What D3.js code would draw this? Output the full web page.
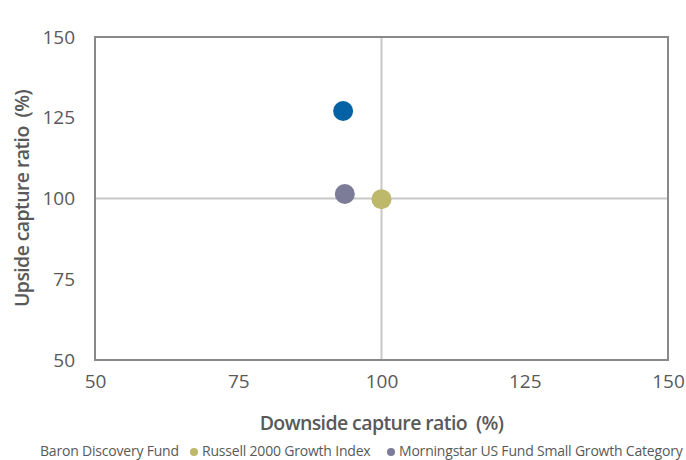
<!DOCTYPE html>
<html><head><meta charset="utf-8">
<script src="https://cdn.jsdelivr.net/npm/d3@7"></script>
<style>body{margin:0;background:#fff}svg{display:block}</style>
</head><body><svg id="c" width="686" height="460"></svg>
<script>
const series = ["Baron Discovery Fund","Russell 2000 Growth Index","Morningstar US Fund Small Growth Category"];
const downside = [93.3, 100.0, 93.6];
const upside = [127.1, 99.8, 101.4];
const colors = ["#0563a5","#bdb86a","#7c7b98"];
const xTicks = [50,75,100,125,150];
const yTicks = [50,75,100,125,150];

const svg = d3.select("#c");
const m = {l:95, r:18, t:37, b:100};
const W = 686, H = 460;
const x = d3.scaleLinear().domain([50,150]).range([m.l, W-m.r]);
const y = d3.scaleLinear().domain([50,150]).range([H-m.b, m.t]);
const font = "'Open Sans', sans-serif";

svg.append("line").attr("x1",x(100)).attr("x2",x(100)).attr("y1",y(150)).attr("y2",y(50)).attr("stroke","#c8c8c8").attr("stroke-width",2);
svg.append("line").attr("x1",x(50)).attr("x2",x(150)).attr("y1",y(100)).attr("y2",y(100)).attr("stroke","#c8c8c8").attr("stroke-width",2);
svg.append("rect").attr("x",x(50)).attr("y",y(150)).attr("width",x(150)-x(50)).attr("height",y(50)-y(150))
  .attr("fill","none").attr("stroke","#898989").attr("stroke-width",2);

const xa = svg.append("g").attr("transform",`translate(0,${y(50)})`)
  .call(d3.axisBottom(x).tickValues(xTicks).tickSize(0).tickPadding(15));
const ya = svg.append("g").attr("transform",`translate(${x(50)},0)`)
  .call(d3.axisLeft(y).tickValues(yTicks).tickSize(0).tickPadding(20));
[xa,ya].forEach(a=>{a.select(".domain").remove();
  a.selectAll("text").attr("font-family",font).attr("font-size",19).attr("fill","#595959");});

svg.append("text").attr("x",x(100)).attr("y",430).attr("text-anchor","middle")
  .attr("font-family",font).attr("font-size",19.5).attr("font-weight",600).attr("fill","#595959")
  .attr("letter-spacing",-0.6).text("Downside capture ratio\u00a0\u00a0(%)");
svg.append("text").attr("transform",`translate(29,${y(100)}) rotate(-90)`).attr("text-anchor","middle")
  .attr("font-family",font).attr("font-size",19.5).attr("font-weight",600).attr("fill","#595959")
  .attr("letter-spacing",-0.6).text("Upside capture ratio\u00a0\u00a0(%)");

svg.selectAll("circle.pt").data(series).join("circle").attr("class","pt")
  .attr("cx",(d,i)=>x(downside[i])).attr("cy",(d,i)=>y(upside[i])).attr("r",10)
  .attr("fill",(d,i)=>colors[i]);

const legX = [40, 202, 399];
const lg = svg.append("g");
series.forEach((s,i)=>{
  if(i>0) lg.append("circle").attr("cx",legX[i]-8).attr("cy",452).attr("r",4).attr("fill",colors[i]);
  lg.append("text").attr("x",legX[i]).attr("y",456).attr("font-family",font).attr("font-size",14)
    .attr("fill","#595959").attr("letter-spacing",-0.2).text(s);
});
</script></body></html>
